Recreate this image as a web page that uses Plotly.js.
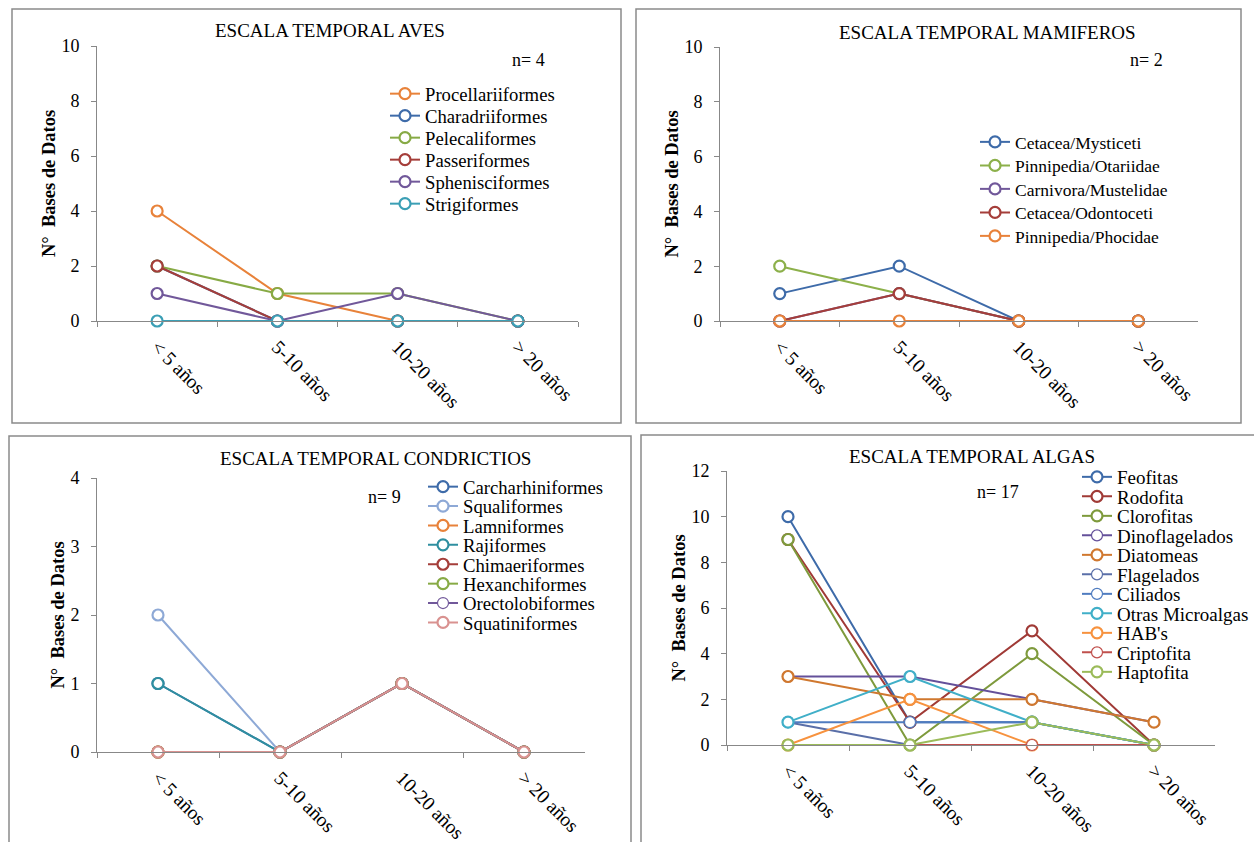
<!DOCTYPE html>
<html>
<head>
<meta charset="utf-8">
<script src="https://cdn.plot.ly/plotly-3.0.1.min.js"></script>
<style>html,body{margin:0;padding:0;background:#fff;}#chart{width:1254px;height:842px;}</style>
</head>
<body>
<div id="chart"></div>
<script>
// ---------- DATA ----------
const categories = ["< 5 años", "5-10 años", "10-20 años", "> 20 años"];

// AVES (n= 4)
const avesNames = ["Procellariiformes", "Charadriiformes", "Pelecaliformes", "Passeriformes", "Sphenisciformes", "Strigiformes"];
const avesValues = [
  [4, 1, 0, 0],
  [2, 0, 0, 0],
  [2, 1, 1, 0],
  [2, 0, 0, 0],
  [1, 0, 1, 0],
  [0, 0, 0, 0]
];

// MAMIFEROS (n= 2)
const mamNames = ["Cetacea/Mysticeti", "Pinnipedia/Otariidae", "Carnivora/Mustelidae", "Cetacea/Odontoceti", "Pinnipedia/Phocidae"];
const mamValues = [
  [1, 2, 0, 0],
  [2, 1, 0, 0],
  [0, 1, 0, 0],
  [0, 1, 0, 0],
  [0, 0, 0, 0]
];

// CONDRICTIOS (n= 9)
const conNames = ["Carcharhiniformes", "Squaliformes", "Lamniformes", "Rajiformes", "Chimaeriformes", "Hexanchiformes", "Orectolobiformes", "Squatiniformes"];
const conValues = [
  [1, 0, 1, 0],
  [2, 0, 1, 0],
  [0, 0, 1, 0],
  [1, 0, 1, 0],
  [0, 0, 1, 0],
  [0, 0, 1, 0],
  [0, 0, 1, 0],
  [0, 0, 1, 0]
];

// ALGAS (n= 17)
const algNames = ["Feofitas", "Rodofita", "Clorofitas", "Dinoflagelados", "Diatomeas", "Flagelados", "Ciliados", "Otras Microalgas", "HAB's", "Criptofita", "Haptofita"];
const algValues = [
  [10, 1, 1, 0],
  [9, 1, 5, 0],
  [9, 0, 4, 0],
  [3, 3, 2, 1],
  [3, 2, 2, 1],
  [1, 0, 0, 0],
  [1, 1, 1, 0],
  [1, 3, 1, 0],
  [0, 2, 0, 0],
  [0, 0, 0, 0],
  [0, 0, 1, 0]
];

// ---------- STYLE ----------
const avesColors = ["#E8823A", "#3E6BA9", "#87AA45", "#A53E3A", "#71589A", "#3B9FB5"];
const mamColors = ["#3E6BA9", "#8CB04A", "#71589A", "#A53E3A", "#E8823A"];
const conColors = ["#3E6BA9", "#8EA9D6", "#E8823A", "#2F8FA0", "#A53E3A", "#87AA45", "#71589A", "#D99290"];
const algColors = ["#3E6BA9", "#A03A36", "#7E9A3C", "#64509A", "#D0782F", "#5A6FA8", "#4F7CC0", "#40AFC8", "#F7923E", "#C0504D", "#9BBB59"];
const thinAlg = [false, false, false, true, false, true, true, false, false, true, false];
const thinCon = [false, false, false, false, false, false, true, false];

const W = 1254, H = 842;
const px = x => x / W;
const py = y => 1 - y / H;
const SERIF = "Liberation Serif, Times New Roman, serif";

const traces = [];
const layout = {
  width: W, height: H,
  margin: {l: 0, r: 0, t: 0, b: 0},
  paper_bgcolor: "#fff", plot_bgcolor: "rgba(0,0,0,0)",
  showlegend: true,
  font: {family: SERIF, color: "#000", size: 18},
  annotations: [], shapes: []
};

let legendCount = 0;
function addPanel(idx, names, values, colors, thin, opt) {
  const xa = idx === 1 ? "x" : "x" + idx;
  const ya = idx === 1 ? "y" : "y" + idx;
  names.forEach((nm, i) => {
    legendCount++;
    const lname = legendCount === 1 ? "legend" : "legend" + legendCount;
    const t = !!(thin && thin[i]);
    traces.push({
      type: "scatter", mode: "lines+markers",
      x: categories, y: values[i], name: nm,
      xaxis: xa, yaxis: ya, legend: lname, cliponaxis: false,
      line: {color: colors[i], width: 2},
      marker: {symbol: "circle", size: 11, color: "#fff", line: {color: colors[i], width: t ? 1.2 : 2.2}}
    });
    layout[lname] = {
      x: px(opt.legX - 5), y: py(opt.legY + i * opt.legStep),
      xanchor: "left", yanchor: "middle",
      bgcolor: "rgba(0,0,0,0)", borderwidth: 0,
      font: {family: SERIF, size: opt.legFont, color: "#000"}
    };
  });
  const xaxKey = idx === 1 ? "xaxis" : "xaxis" + idx;
  const yaxKey = idx === 1 ? "yaxis" : "yaxis" + idx;
  layout[xaxKey] = {
    domain: [px(opt.x0), px(opt.x1)], anchor: ya,
    type: "category", range: [-0.5, 3.5], tickson: "boundaries",
    ticks: "outside", ticklen: 5, tickcolor: "#888", tickwidth: 1,
    showline: true, linecolor: "#888", linewidth: 1,
    showgrid: false, zeroline: false, tickangle: 45,
    ticklabelstandoff: 6,
    tickfont: {family: SERIF, size: 19.5, color: "#000"}, fixedrange: true
  };
  layout[yaxKey] = {
    domain: [py(opt.y0), py(opt.y1)], anchor: xa,
    range: [0, opt.ymax], dtick: opt.dtick, tick0: 0,
    ticks: "outside", ticklen: 5, tickcolor: "#888", tickwidth: 1,
    showline: true, linecolor: "#888", linewidth: 1,
    showgrid: false, zeroline: false,
    ticklabelstandoff: 8,
    tickfont: {family: SERIF, size: 18, color: "#000"}, fixedrange: true,
    title: {text: "N°\u00a0\u00a0Bases de Datos", standoff: 0,
            font: {family: SERIF, size: 18.5, weight: "bold", color: "#000"}}
  };
  layout.annotations.push({
    xref: "paper", yref: "paper", x: px(opt.titleX), y: py(opt.titleY),
    xanchor: "left", yanchor: "middle", showarrow: false,
    text: opt.title, font: {family: SERIF, size: 19, color: "#000"}
  });
  layout.annotations.push({
    xref: "paper", yref: "paper", x: px(opt.nX), y: py(opt.nY),
    xanchor: "left", yanchor: "middle", showarrow: false,
    text: opt.n, font: {family: SERIF, size: 18, color: "#000"}
  });
  layout.shapes.push({
    type: "rect", xref: "paper", yref: "paper",
    x0: px(opt.bx0), x1: px(opt.bx1), y0: py(opt.by0), y1: py(opt.by1),
    line: {color: "#8a8a8a", width: 1.5}, fillcolor: "rgba(0,0,0,0)", layer: "below"
  });
}

addPanel(1, avesNames, avesValues, avesColors, null, {
  x0: 97, x1: 578, y0: 321, y1: 46, ymax: 10, dtick: 2,
  legX: 390, legY: 94, legStep: 22, legFont: 18.7,
  title: "ESCALA TEMPORAL AVES", titleX: 213, titleY: 30, n: "n= 4", nX: 510, nY: 60,
  bx0: 12, bx1: 621, by0: 9, by1: 423
});
addPanel(2, mamNames, mamValues, mamColors, null, {
  x0: 720, x1: 1198, y0: 321, y1: 47, ymax: 10, dtick: 2,
  legX: 980, legY: 142, legStep: 23.5, legFont: 17.5,
  title: "ESCALA TEMPORAL MAMIFEROS", titleX: 837, titleY: 32, n: "n= 2", nX: 1128, nY: 60,
  bx0: 636, bx1: 1241, by0: 9, by1: 423
});
addPanel(3, conNames, conValues, conColors, thinCon, {
  x0: 97, x1: 585, y0: 752, y1: 478, ymax: 4, dtick: 1,
  legX: 428, legY: 487, legStep: 19.4, legFont: 18.7,
  title: "ESCALA TEMPORAL CONDRICTIOS", titleX: 218, titleY: 458, n: "n= 9", nX: 366, nY: 497,
  bx0: 9, bx1: 631, by0: 436, by1: 850
});
addPanel(4, algNames, algValues, algColors, thinAlg, {
  x0: 727, x1: 1215, y0: 745, y1: 471, ymax: 12, dtick: 2,
  legX: 1082, legY: 477, legStep: 19.5, legFont: 19,
  title: "ESCALA TEMPORAL ALGAS", titleX: 847, titleY: 456, n: "n= 17", nX: 975, nY: 492,
  bx0: 641, bx1: 1270, by0: 435, by1: 850
});

Plotly.newPlot("chart", traces, layout, {staticPlot: true, displayModeBar: false});
</script>
</body>
</html>
